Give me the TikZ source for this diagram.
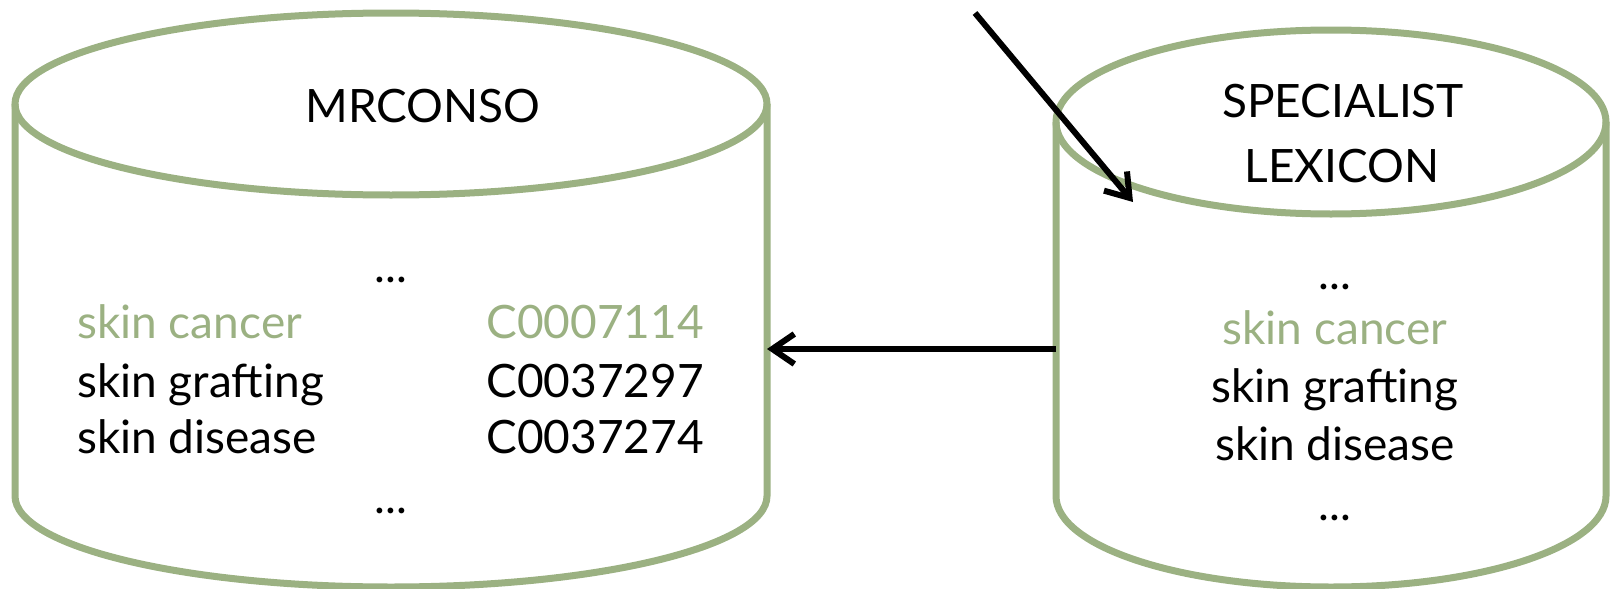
\documentclass[tikz,border=0pt]{standalone}
\usepackage{fontspec}
\setmainfont{Lato}
\usepackage{tikz}
\usetikzlibrary{arrows.meta}
\definecolor{sage}{RGB}{155,177,130}

\tikzset{
  drum/.style={draw=sage, line width=7pt},
  entry/.style={inner sep=0pt, font=\fontsize{46}{56}\selectfont},
  hit/.style={entry, text=sage},
  link/.style={line width=6pt, -{Straight Barb[length=22pt,width=30pt]}}
}

\begin{document}
\begin{tikzpicture}[x=1pt,y=1pt]
\useasboundingbox (0,0) rectangle (1610,-589);

% Draw drum (left)
\draw [drum] (15,-104) -- (15,-496) arc (180:360:376 and 91) -- (767,-104);
\draw [drum] (391,-104) ellipse (376 and 91);
\coordinate (mrconso east) at (767,-349);

% Draw drum (right)
\draw [drum] (1056,-122) -- (1056,-496) arc (180:360:275 and 91) -- (1606,-122);
\draw [drum] (1331,-122) ellipse (275 and 92);
\coordinate (lexicon west) at (1056,-349);
\coordinate (lexicon top) at (1133,-202);
\coordinate (feed) at (975,-13);

% Table of strings and CUIs
\node [entry, anchor=base] (mrconso) at (423,-122) {MRCONSO};
\node [entry, anchor=base] (mdots1) at (391,-282) {...};
\node [hit, anchor=base west] (mname1) at (77,-338) {skin cancer};
\node [entry, anchor=base west] (mname2) at (77,-397) {skin grafting};
\node [entry, anchor=base west] (mname3) at (77,-453) {skin disease};
\node [hit, anchor=base east] (mcui1) at (704,-338) {C0007114};
\node [entry, anchor=base east] (mcui2) at (704,-397) {C0037297};
\node [entry, anchor=base east] (mcui3) at (704,-453) {C0037274};
\node [entry, anchor=base] (mdots2) at (391,-513) {...};

% Lexicon terms
\node [entry, anchor=base] (specialist) at (1343,-117) {SPECIALIST};
\node [entry, anchor=base] (lexicon) at (1342,-182) {LEXICON};
\node [entry, anchor=base] (ldots1) at (1335,-289) {...};
\node [hit, anchor=base] (lterm1) at (1335,-344) {skin cancer};
\node [entry, anchor=base] (lterm2) at (1335,-402) {skin grafting};
\node [entry, anchor=base] (lterm3) at (1335,-460) {skin disease};
\node [entry, anchor=base] (ldots2) at (1335,-520) {...};

% Arrows
\draw [link] (feed) -- (lexicon top);
\draw [link] (lexicon west) -- (mrconso east);
\end{tikzpicture}
\end{document}
